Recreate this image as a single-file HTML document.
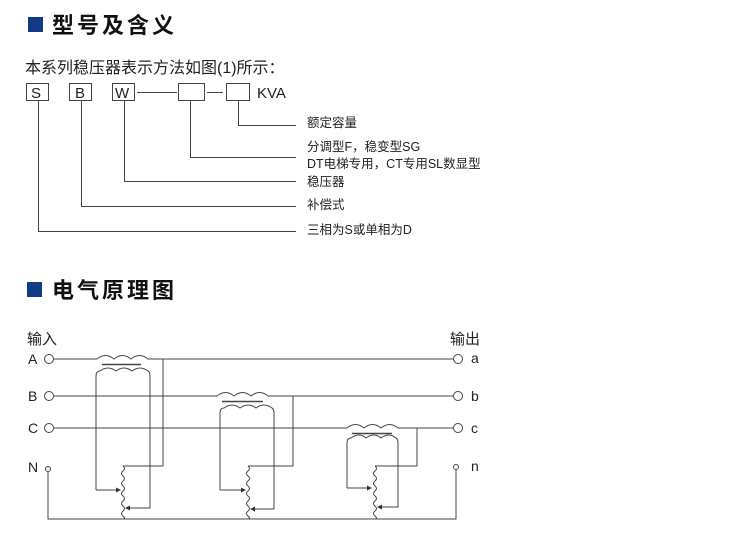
<!DOCTYPE html>
<html><head><meta charset="utf-8"><style>
html,body{margin:0;padding:0;background:#fff;}
body{width:747px;height:543px;overflow:hidden;position:relative;}
svg{position:absolute;left:0;top:0;}
text{font-family:"Liberation Sans","Noto Sans CJK SC",sans-serif;fill:#222;}
.t{font-weight:bold;font-size:22px;letter-spacing:3px;fill:#111;}
.l{font-size:12.5px;}
</style></head><body>
<svg width="747" height="543" viewBox="0 0 747 543">
<g>
<rect x="28" y="17" width="15" height="15" fill="#123a86"/>
<text class="t" x="52" y="33">型号及含义</text>
<text x="25" y="73" style="font-size:16px">本系列稳压器表示方法如图(1)所示：</text>
<g fill="none" stroke="#444" stroke-width="1">
<rect x="26.5" y="83.5" width="22" height="17"/>
<rect x="69.5" y="83.5" width="22" height="17"/>
<rect x="112.5" y="83.5" width="22" height="17"/>
<line x1="137" y1="92.5" x2="177" y2="92.5"/>
<rect x="178.5" y="83.5" width="26" height="17"/>
<line x1="207" y1="92.5" x2="223" y2="92.5"/>
<rect x="226.5" y="83.5" width="23" height="17"/>
<polyline points="238.5,101 238.5,125.5 296,125.5"/>
<polyline points="190.5,101 190.5,157.5 296,157.5"/>
<polyline points="124.5,101 124.5,181.5 296,181.5"/>
<polyline points="81.5,101 81.5,206.5 296,206.5"/>
<polyline points="38.5,101 38.5,231.5 296,231.5"/>
</g>
<text x="31" y="98" style="font-size:15px">S</text>
<text x="75" y="98" style="font-size:15px">B</text>
<text x="115" y="98" style="font-size:15px">W</text>
<text x="257" y="98" style="font-size:15px">KVA</text>
<text class="l" x="307" y="127">额定容量</text>
<text class="l" x="307" y="151">分调型F，稳变型SG</text>
<text class="l" x="307" y="168">DT电梯专用，CT专用SL数显型</text>
<text class="l" x="307" y="186">稳压器</text>
<text class="l" x="307" y="209">补偿式</text>
<text class="l" x="307" y="234">三相为S或单相为D</text>
</g>
<rect x="27" y="282" width="15" height="15" fill="#123a86"/>
<text class="t" x="52" y="298">电气原理图</text>
<text x="27" y="344" style="font-size:15px">输入</text>
<text x="450" y="344" style="font-size:15px">输出</text>
<text x="28" y="364" style="font-size:14px">A</text>
<text x="28" y="401" style="font-size:14px">B</text>
<text x="28" y="433" style="font-size:14px">C</text>
<text x="28" y="472" style="font-size:14px">N</text>
<text x="471" y="363" style="font-size:14px">a</text>
<text x="471" y="401" style="font-size:14px">b</text>
<text x="471" y="433" style="font-size:14px">c</text>
<text x="471" y="471" style="font-size:14px">n</text>
<g fill="none" stroke="#444" stroke-width="1">
<circle cx="49" cy="359" r="4.5"/><circle cx="49" cy="396" r="4.5"/><circle cx="49" cy="428" r="4.5"/><circle cx="48" cy="469" r="2.5"/>
<circle cx="458" cy="359" r="4.5"/><circle cx="458" cy="396" r="4.5"/><circle cx="458" cy="428" r="4.5"/><circle cx="456" cy="467" r="2.5"/>
<!-- A line with primary -->
<path d="M54 359 H97 q8.5 -7 17 0 q8.5 -7 17 0 q8.5 -7 17 0 H453"/>
<path d="M54 396 H217 q8.5 -7 17 0 q8.5 -7 17 0 q8.5 -7 17 0 H453"/>
<path d="M54 428 H347 q8.5 -7 17 0 q8.5 -7 17 0 q8.5 -7 17 0 H453"/>
<line x1="102" y1="364.5" x2="141" y2="364.5" stroke-width="1.5"/>
<line x1="222" y1="401.5" x2="263" y2="401.5" stroke-width="1.5"/>
<line x1="352" y1="433.5" x2="392" y2="433.5" stroke-width="1.5"/>
<!-- secondaries -->
<path d="M96 490 V376 q0 -5 4 -5 q8 -6 16 0 q8 -6 16 0 q8 -6 16 0 q2 1 2 5 V508 H128"/>
<path d="M96 490 H118"/>
<path d="M220 490 V413 q0 -5 4 -5 q8 -6 16 0 q8 -6 16 0 q8 -6 16 0 q2 1 2 5 V509 H253"/>
<path d="M220 490 H243"/>
<path d="M347 488 V443 q0 -5 4 -5 q8 -6 15 0 q8 -6 15 0 q8 -6 15 0 q2 1 2 5 V507 H380"/>
<path d="M347 488 H368"/>
<!-- taps -->
<polyline points="163,359 163,466 123,466"/>
<polyline points="293,396 293,466 248,466"/>
<polyline points="417,428 417,466 375,466"/>
<path d="M123 466 q3 2.5 0 5 q-3 2.5 0 5 q3 2.5 0 5 q-3 2.5 0 5 q3 2.5 0 5 q-3 2.5 0 5 q3 2.5 0 5 q-3 2.5 0 5 q3 2.5 0 5 q-3 2.5 0 5 q3 2.5 0 3"/>
<path d="M248 466 q3 2.5 0 5 q-3 2.5 0 5 q3 2.5 0 5 q-3 2.5 0 5 q3 2.5 0 5 q-3 2.5 0 5 q3 2.5 0 5 q-3 2.5 0 5 q3 2.5 0 5 q-3 2.5 0 5 q3 2.5 0 3"/>
<path d="M375 466 q3 2.5 0 5 q-3 2.5 0 5 q3 2.5 0 5 q-3 2.5 0 5 q3 2.5 0 5 q-3 2.5 0 5 q3 2.5 0 5 q-3 2.5 0 5 q3 2.5 0 5 q-3 2.5 0 5 q3 2.5 0 3"/>
<polyline points="48,472 48,519 456,519 456,470"/>
</g>
<g fill="#333">
<path d="M121 490 l-5 -2.5 v5 z"/><path d="M125 508 l5 -2.5 v5 z"/>
<path d="M246 490 l-5 -2.5 v5 z"/><path d="M250 509 l5 -2.5 v5 z"/>
<path d="M372 488 l-5 -2.5 v5 z"/><path d="M377 507 l5 -2.5 v5 z"/>
</g>
</svg>
</body></html>
